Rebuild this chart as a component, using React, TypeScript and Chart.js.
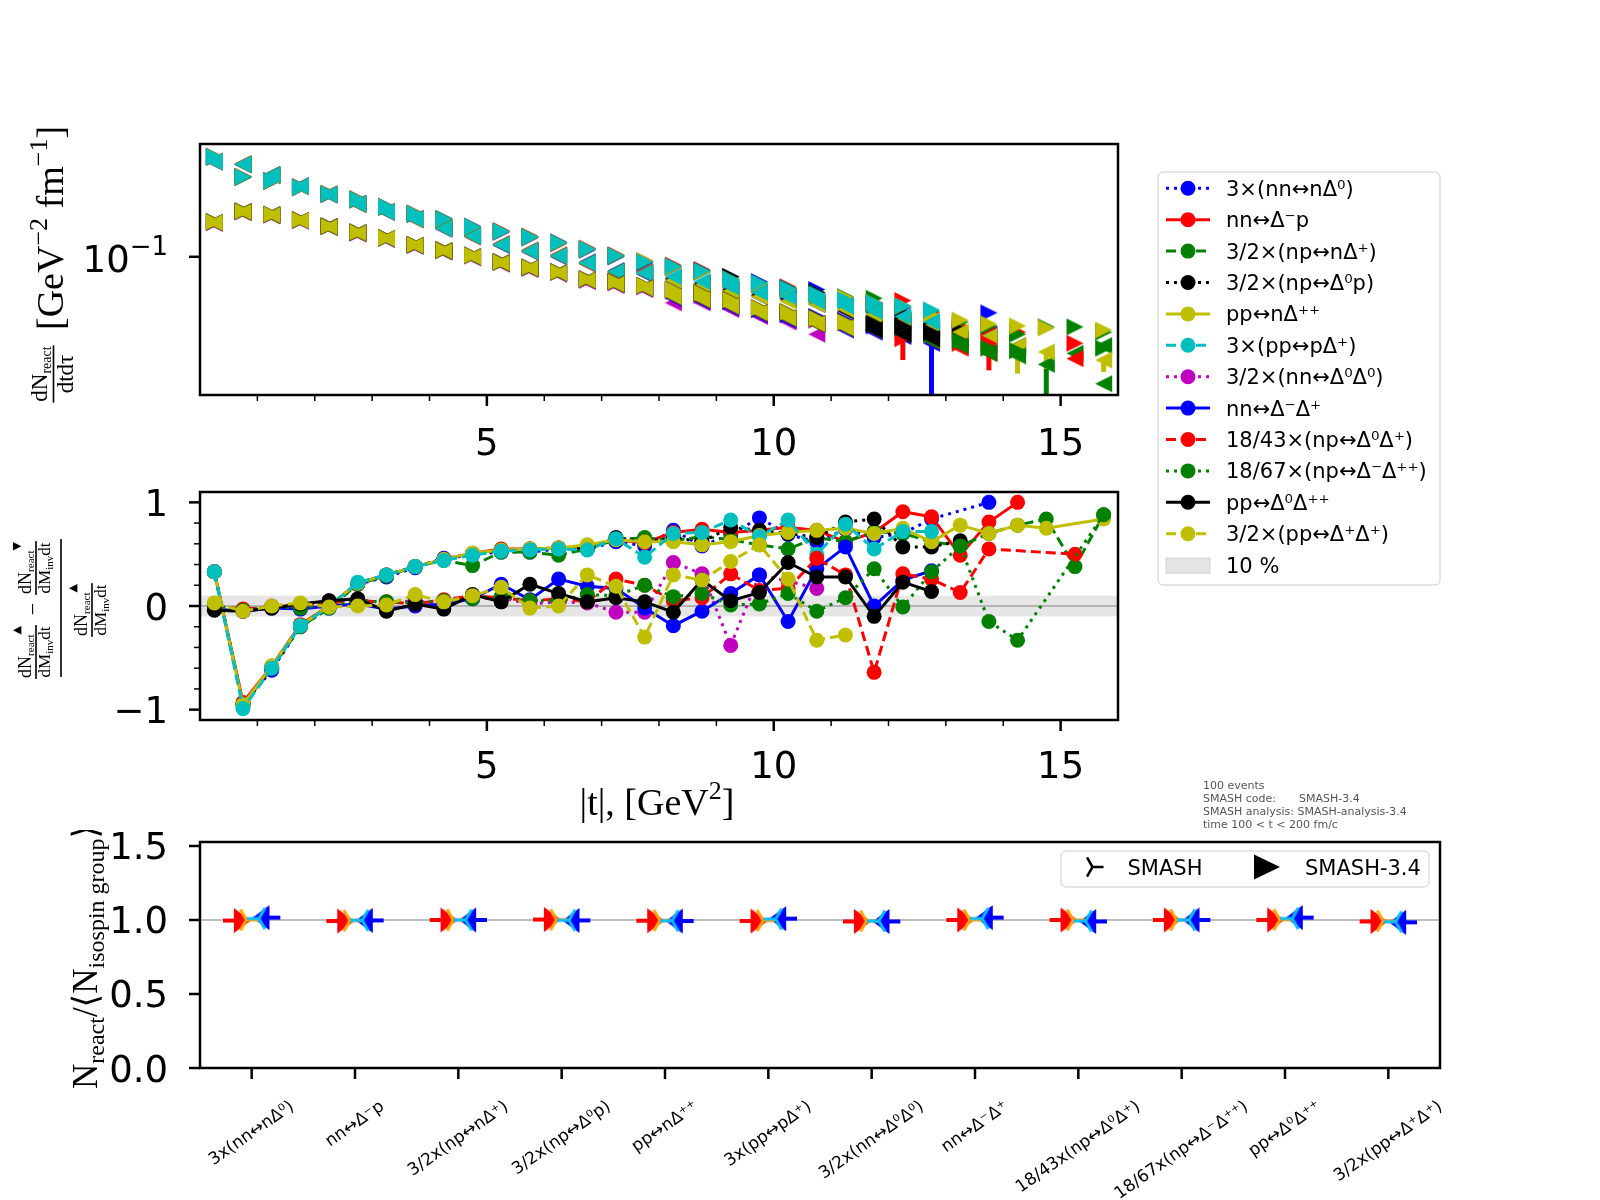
import { useEffect, useRef } from 'react';
import { Chart, registerables } from 'chart.js';

Chart.register(...registerables);

const SANS = '"DejaVu Sans", sans-serif';
const SERIF = '"Liberation Serif", "DejaVu Serif", serif';

// |t| bin centres (GeV^2)
const tCenters = [0.25, 0.75, 1.25, 1.75, 2.25, 2.75, 3.25, 3.75, 4.25, 4.75, 5.25, 5.75, 6.25, 6.75, 7.25, 7.75,
  8.25, 8.75, 9.25, 9.75, 10.25, 10.75, 11.25, 11.75, 12.25, 12.75, 13.25, 13.75, 14.25, 14.75, 15.25, 15.75];

const topXTicks = [5, 10, 15];
const topYTicks = [0.1];
const midYTicks = [-1, 0, 1];
const botYTicks = [0, 0.5, 1.0, 1.5];

const legendLabels = ['3×(nn↔nΔ⁰)', 'nn↔Δ⁻p', '3/2×(np↔nΔ⁺)', '3/2×(np↔Δ⁰p)', 'pp↔nΔ⁺⁺', '3×(pp↔pΔ⁺)',
  '3/2×(nn↔Δ⁰Δ⁰)', 'nn↔Δ⁻Δ⁺', '18/43×(np↔Δ⁰Δ⁺)', '18/67×(np↔Δ⁻Δ⁺⁺)', 'pp↔Δ⁰Δ⁺⁺', '3/2×(pp↔Δ⁺Δ⁺)'];
const reactionLabels = ['3x(nn↔nΔ⁰)', 'nn↔Δ⁻p', '3/2x(np↔nΔ⁺)', '3/2x(np↔Δ⁰p)', 'pp↔nΔ⁺⁺', '3x(pp↔pΔ⁺)',
  '3/2x(nn↔Δ⁰Δ⁰)', 'nn↔Δ⁻Δ⁺', '18/43x(np↔Δ⁰Δ⁺)', '18/67x(np↔Δ⁻Δ⁺⁺)', 'pp↔Δ⁰Δ⁺⁺', '3/2x(pp↔Δ⁺Δ⁺)'];

const seriesStyles = [
  { color: '#0000ff', dash: [3, 5] },
  { color: '#ff0000', dash: [] },
  { color: '#008000', dash: [10, 5] },
  { color: '#000000', dash: [3, 5] },
  { color: '#bfbf00', dash: [] },
  { color: '#00bfbf', dash: [10, 5] },
  { color: '#bf00bf', dash: [3, 5] },
  { color: '#0000ff', dash: [] },
  { color: '#ff0000', dash: [10, 5] },
  { color: '#008000', dash: [3, 5] },
  { color: '#000000', dash: [] },
  { color: '#bfbf00', dash: [10, 5] },
];

// dN/dt dtau, forward (right triangles) and backward (left triangles)
const fwd_nnNd0 = [0.272, 0.222, 0.215, 0.200, 0.187, 0.177, 0.166, 0.153, 0.147, 0.136, 0.128, 0.121, 0.116, 0.107, 0.100, 0.094, 0.090, 0.086, 0.082, 0.078, 0.072, 0.072, 0.066, 0.063, 0.060, 0.056, null, 0.057, null, null, null, null];
const bwd_nnNd0 = [0.259, 0.252, 0.228, 0.204, 0.186, 0.171, 0.156, 0.147, 0.132, 0.124, 0.112, 0.105, 0.100, 0.095, 0.087, 0.084, 0.079, 0.075, 0.071, 0.067, 0.065, 0.062, 0.059, 0.056, 0.053, 0.047, null, 0.046, null, null, null, null];
const fwd_nnDmP = [0.274, 0.224, 0.213, 0.202, 0.189, 0.179, 0.164, 0.155, 0.145, 0.134, 0.130, 0.123, 0.114, 0.109, 0.102, 0.096, 0.092, 0.088, 0.080, 0.076, 0.074, 0.069, 0.066, 0.063, 0.0645, 0.057, 0.050, 0.049, 0.047, null, null, null];
const bwd_nnDmP = [0.261, 0.254, 0.226, 0.202, 0.188, 0.169, 0.158, 0.145, 0.134, 0.122, 0.114, 0.107, 0.102, 0.093, 0.085, 0.086, 0.081, 0.077, 0.073, 0.069, 0.067, 0.064, 0.061, 0.058, 0.053, 0.049, 0.044, 0.041, 0.040, null, null, null];
const fwd_npNdp = [0.272, 0.222, 0.214, 0.201, 0.188, 0.177, 0.165, 0.154, 0.146, 0.135, 0.129, 0.122, 0.115, 0.108, 0.101, 0.095, 0.091, 0.086, 0.081, 0.077, 0.073, 0.070, 0.067, 0.066, 0.061, 0.058, 0.052, 0.050, 0.046, 0.0495, 0.0495, 0.047];
const bwd_npNdp = [0.260, 0.253, 0.227, 0.203, 0.187, 0.170, 0.157, 0.146, 0.133, 0.123, 0.113, 0.106, 0.101, 0.094, 0.086, 0.085, 0.080, 0.076, 0.072, 0.068, 0.066, 0.063, 0.060, 0.057, 0.052, 0.049, 0.043, 0.044, 0.041, 0.034, 0.038, 0.041];
const fwd_npD0p = [0.273, 0.223, 0.214, 0.201, 0.188, 0.178, 0.165, 0.154, 0.146, 0.135, 0.129, 0.122, 0.115, 0.108, 0.101, 0.095, 0.090, 0.087, 0.082, 0.076, 0.073, 0.070, 0.066, 0.062, 0.057, 0.053, 0.048, null, null, null, null, null];
const bwd_npD0p = [0.260, 0.253, 0.227, 0.203, 0.187, 0.170, 0.157, 0.146, 0.133, 0.123, 0.113, 0.106, 0.101, 0.094, 0.086, 0.085, 0.080, 0.076, 0.072, 0.068, 0.066, 0.063, 0.058, 0.055, 0.051, 0.047, 0.044, null, null, null, null, null];
const fwd_ppNdpp = [0.273, 0.223, 0.214, 0.201, 0.188, 0.178, 0.165, 0.154, 0.146, 0.135, 0.129, 0.122, 0.115, 0.108, 0.101, 0.096, 0.090, 0.086, 0.080, 0.076, 0.072, 0.068, 0.0665, 0.063, 0.061, 0.056, 0.053, 0.051, 0.050, 0.049, null, 0.048];
const bwd_ppNdpp = [0.260, 0.253, 0.227, 0.203, 0.187, 0.170, 0.157, 0.146, 0.133, 0.123, 0.113, 0.106, 0.101, 0.094, 0.086, 0.085, 0.079, 0.075, 0.071, 0.067, 0.064, 0.062, 0.059, 0.056, 0.053, 0.050, 0.047, 0.045, 0.041, 0.0385, null, 0.0355];
const fwd_ppPdp = [0.273, 0.223, 0.214, 0.201, 0.188, 0.178, 0.165, 0.154, 0.146, 0.135, 0.129, 0.122, 0.115, 0.108, 0.101, 0.095, 0.091, 0.087, 0.080, 0.077, 0.073, 0.069, 0.065, 0.063, 0.061, 0.0587, null, null, null, null, null, null];
const bwd_ppPdp = [0.260, 0.253, 0.227, 0.203, 0.187, 0.170, 0.157, 0.146, 0.133, 0.123, 0.113, 0.106, 0.101, 0.094, 0.086, 0.085, 0.082, 0.078, 0.074, 0.070, 0.067, 0.064, 0.061, 0.058, 0.055, 0.052, null, null, null, null, null, null];
const fwd_nnD0D0 = [0.141, 0.157, 0.152, 0.144, 0.136, 0.127, 0.121, 0.112, 0.107, 0.101, 0.095, 0.089, 0.086, 0.079, 0.077, 0.074, 0.071, 0.068, 0.064, 0.059, 0.057, 0.053, null, null, null, null, null, null, null, null, null, null];
const bwd_nnD0D0 = [0.140, 0.156, 0.151, 0.143, 0.135, 0.126, 0.119, 0.111, 0.105, 0.099, 0.093, 0.088, 0.084, 0.078, 0.075, 0.072, 0.063, 0.063, 0.059, 0.055, 0.052, 0.046, null, null, null, null, null, null, null, null, null, null];
const fwd_nnDmDp = [0.142, 0.158, 0.153, 0.145, 0.136, 0.128, 0.121, 0.113, 0.107, 0.1015, 0.095, 0.090, 0.086, 0.080, 0.078, 0.075, 0.072, 0.069, 0.064, 0.059, 0.056, 0.055, 0.053, 0.050, 0.049, 0.046, null, null, null, null, null, null];
const bwd_nnDmDp = [0.141, 0.157, 0.152, 0.144, 0.135, 0.127, 0.120, 0.112, 0.106, 0.100, 0.094, 0.089, 0.085, 0.079, 0.076, 0.073, 0.066, 0.064, 0.060, 0.056, 0.053, 0.051, 0.048, 0.047, 0.045, 0.042, null, null, null, null, null, null];
const fwd_npD0Dp = [0.142, 0.158, 0.153, 0.145, 0.136, 0.128, 0.121, 0.113, 0.107, 0.1015, 0.095, 0.090, 0.086, 0.080, 0.078, 0.075, 0.072, 0.0696, 0.065, 0.060, 0.0575, 0.054, 0.052, 0.051, 0.044, 0.046, 0.042, 0.042, null, null, 0.042, null];
const bwd_npD0Dp = [0.141, 0.157, 0.152, 0.144, 0.135, 0.127, 0.120, 0.112, 0.106, 0.100, 0.094, 0.089, 0.085, 0.079, 0.076, 0.073, 0.067, 0.065, 0.061, 0.057, 0.054, 0.051, 0.049, 0.048, 0.046, 0.043, 0.040, 0.038, null, null, 0.036, null];
const fwd_npDmDpp = [0.142, 0.158, 0.153, 0.145, 0.136, 0.128, 0.121, 0.113, 0.107, 0.1015, 0.095, 0.090, 0.086, 0.080, 0.078, 0.075, 0.072, 0.0696, 0.065, 0.060, 0.0575, 0.054, 0.052, 0.051, 0.049, 0.046, 0.043, 0.040, 0.039, null, null, 0.040];
const bwd_npDmDpp = [0.141, 0.157, 0.152, 0.144, 0.135, 0.127, 0.120, 0.112, 0.106, 0.100, 0.094, 0.089, 0.085, 0.079, 0.076, 0.073, 0.067, 0.065, 0.061, 0.057, 0.054, 0.051, 0.049, 0.048, 0.046, 0.043, 0.041, 0.038, 0.037, null, null, 0.028];
const fwd_ppD0Dpp = [0.142, 0.158, 0.153, 0.145, 0.136, 0.128, 0.121, 0.113, 0.107, 0.1015, 0.095, 0.090, 0.086, 0.080, 0.078, 0.075, 0.072, 0.0696, 0.065, 0.060, 0.0575, 0.054, 0.052, 0.051, 0.050, 0.047, null, null, null, null, null, null];
const bwd_ppD0Dpp = [0.141, 0.157, 0.152, 0.144, 0.135, 0.127, 0.120, 0.112, 0.106, 0.100, 0.094, 0.089, 0.085, 0.079, 0.076, 0.073, 0.067, 0.065, 0.061, 0.057, 0.054, 0.051, 0.049, 0.048, 0.046, 0.044, null, null, null, null, null, null];
const fwd_ppDpDp = [0.142, 0.158, 0.153, 0.145, 0.136, 0.128, 0.121, 0.113, 0.107, 0.1015, 0.095, 0.090, 0.086, 0.080, 0.078, 0.075, 0.072, 0.0696, 0.065, 0.060, 0.0575, 0.054, 0.052, null, null, null, null, null, null, null, null, null];
const bwd_ppDpDp = [0.141, 0.157, 0.152, 0.144, 0.135, 0.127, 0.120, 0.112, 0.106, 0.100, 0.094, 0.089, 0.085, 0.079, 0.076, 0.073, 0.067, 0.065, 0.061, 0.057, 0.054, 0.051, 0.049, null, null, null, null, null, null, null, null, null];

// downward error bars that stick out of the marker cloud
const errBwd_npNdp = [0, 0, 0, 0, 0, 0, 0, 0, 0, 0, 0, 0, 0, 0, 0, 0, 0, 0, 0, 0, 0, 0, 0, 0, 0, 0, 0, 0, 0, 0.034, 0, 0];
const errBwd_ppNdpp = [0, 0, 0, 0, 0, 0, 0, 0, 0, 0, 0, 0, 0, 0, 0, 0, 0, 0, 0, 0, 0, 0, 0, 0, 0, 0, 0, 0, 0.010, 0.006, 0, 0.004];
const errBwd_nnDmDp = [0, 0, 0, 0, 0, 0, 0, 0, 0, 0, 0, 0, 0, 0, 0, 0, 0, 0, 0, 0, 0, 0, 0, 0, 0, 0.042, 0, 0, 0, 0, 0, 0];
const errFwd_npD0Dp = [0, 0, 0, 0, 0, 0, 0, 0, 0, 0, 0, 0, 0, 0, 0, 0, 0, 0, 0, 0, 0, 0, 0, 0, 0.0085, 0, 0, 0.010, 0, 0, 0, 0];

// forward-backward asymmetry
const asym_nnNd0 = [0.33, -0.95, -0.62, -0.20, -0.02, 0.21, 0.28, 0.37, 0.46, 0.50, 0.52, 0.52, 0.55, 0.55, 0.62, 0.58, 0.73, 0.58, 0.69, 0.85, 0.69, 0.62, 0.74, 0.66, 0.70, 0.84, null, 1.00, null, null, null, null];
const asym_nnDmP = [0.33, -0.93, -0.58, -0.18, 0.00, 0.22, 0.30, 0.38, 0.45, 0.51, 0.55, 0.55, 0.56, 0.57, 0.64, 0.61, 0.71, 0.74, 0.71, 0.73, 0.76, 0.73, 0.62, 0.71, 0.91, 0.86, 0.49, 0.81, 1.00, null, null, null];
const asym_npNdp = [0.33, -0.95, -0.60, -0.20, -0.02, 0.21, 0.29, 0.38, 0.44, 0.39, 0.52, 0.52, 0.49, 0.55, 0.64, 0.66, 0.63, 0.67, 0.64, 0.59, 0.55, 0.66, 0.62, 0.72, 0.70, 0.62, 0.58, 0.70, 0.78, 0.84, 0.38, 0.88];
const asym_npD0p = [0.33, -0.95, -0.60, -0.19, 0.00, 0.22, 0.30, 0.38, 0.45, 0.50, 0.54, 0.55, 0.56, 0.56, 0.66, 0.62, 0.66, 0.62, 0.76, 0.73, 0.70, 0.66, 0.81, 0.84, 0.57, 0.57, 0.63, null, null, null, null, null];
const asym_ppNdpp = [0.33, -0.95, -0.58, -0.19, 0.00, 0.22, 0.30, 0.38, 0.45, 0.51, 0.54, 0.55, 0.56, 0.59, 0.64, 0.62, 0.62, 0.59, 0.62, 0.68, 0.71, 0.73, 0.75, 0.70, 0.75, 0.62, 0.78, 0.70, 0.78, 0.75, null, 0.84];
const asym_ppPdp = [0.33, -0.99, -0.60, -0.19, -0.01, 0.23, 0.30, 0.38, 0.44, 0.49, 0.53, 0.54, 0.55, 0.54, 0.65, 0.47, 0.70, 0.71, 0.83, 0.67, 0.83, 0.50, 0.79, 0.55, 0.72, 0.72, null, null, null, null, null, null];
const asym_nnD0D0 = [0.00, -0.04, 0.00, 0.01, 0.05, 0.06, 0.03, 0.05, 0.02, 0.07, 0.08, 0.02, 0.04, 0.03, -0.06, -0.06, 0.42, 0.31, -0.38, 0.30, 0.24, 0.17, null, null, null, null, null, null, null, null, null, null];
const asym_nnDmDp = [-0.03, -0.05, -0.02, -0.03, 0.00, 0.02, -0.03, 0.00, 0.02, 0.07, 0.21, 0.06, 0.26, 0.19, 0.17, -0.02, -0.19, -0.05, 0.12, 0.30, -0.15, 0.36, 0.57, 0.00, 0.25, 0.34, null, null, null, null, null, null];
const asym_npD0Dp = [0.00, -0.03, -0.01, 0.01, 0.03, 0.05, 0.04, 0.02, 0.06, 0.10, 0.08, 0.05, 0.07, 0.04, 0.26, 0.20, 0.05, 0.08, 0.31, 0.15, 0.17, 0.46, 0.30, -0.64, 0.31, 0.26, 0.13, 0.55, null, null, 0.50, null];
const asym_npDmDpp = [0.00, -0.04, -0.01, -0.02, 0.01, 0.05, 0.04, 0.03, 0.05, 0.07, 0.09, 0.05, 0.05, 0.11, 0.10, 0.20, 0.09, 0.12, 0.01, 0.02, 0.12, -0.05, 0.08, 0.36, -0.01, 0.33, 0.58, -0.15, -0.33, null, null, 0.88];
const asym_ppD0Dpp = [-0.04, -0.05, -0.02, 0.02, 0.05, 0.07, -0.05, 0.02, -0.03, 0.11, 0.04, 0.21, 0.12, 0.04, 0.08, 0.04, -0.06, 0.25, 0.05, 0.13, 0.42, 0.28, 0.28, -0.10, 0.23, 0.14, null, null, null, null, null, null];
const asym_ppDpDp = [0.03, -0.05, 0.00, 0.03, -0.01, 0.00, 0.01, 0.11, 0.04, 0.10, 0.18, -0.02, 0.00, 0.30, 0.19, -0.30, 0.30, 0.25, 0.43, 0.59, 0.26, -0.33, -0.28, null, null, null, null, null, null, null, null, null];

// N_react / <N_isospin group>
const ratioFwd34 = [0.996, 0.993, 1.000, 1.003, 0.995, 0.993, 0.990, 1.000, 1.000, 1.000, 1.000, 0.990];
const ratioBwd34 = [1.016, 0.997, 1.000, 0.997, 0.993, 1.009, 0.990, 1.016, 0.990, 1.000, 1.016, 0.984];
const ratioFwdRef = [1.000, 0.996, 1.000, 1.002, 0.997, 0.996, 0.993, 1.000, 1.000, 1.000, 1.002, 0.993];
const ratioBwdRef = [1.010, 0.998, 1.000, 0.998, 0.995, 1.006, 0.993, 1.010, 0.993, 1.000, 1.010, 0.988];

const dndtFwd = [fwd_nnNd0, fwd_nnDmP, fwd_npNdp, fwd_npD0p, fwd_ppNdpp, fwd_ppPdp, fwd_nnD0D0, fwd_nnDmDp, fwd_npD0Dp, fwd_npDmDpp, fwd_ppD0Dpp, fwd_ppDpDp];
const dndtBwd = [bwd_nnNd0, bwd_nnDmP, bwd_npNdp, bwd_npD0p, bwd_ppNdpp, bwd_ppPdp, bwd_nnD0D0, bwd_nnDmDp, bwd_npD0Dp, bwd_npDmDpp, bwd_ppD0Dpp, bwd_ppDpDp];
const errFwd: (number[] | null)[] = [null, null, null, null, null, null, null, null, errFwd_npD0Dp, null, null, null];
const errBwd: (number[] | null)[] = [null, null, errBwd_npNdp, null, errBwd_ppNdpp, null, null, errBwd_nnDmDp, null, null, null, null];
const asym = [asym_nnNd0, asym_nnDmP, asym_npNdp, asym_npD0p, asym_ppNdpp, asym_ppPdp, asym_nnD0D0, asym_nnDmDp, asym_npD0Dp, asym_npDmDpp, asym_ppD0Dpp, asym_ppDpDp];

type Run = { t: string; s: number; dy?: number; f?: string };

function runsWidth(ctx: CanvasRenderingContext2D, runs: Run[]) {
  let w = 0;
  for (const r of runs) {
    ctx.font = `${r.s}px ${r.f ?? SERIF}`;
    w += ctx.measureText(r.t).width;
  }
  return w;
}

function drawRuns(ctx: CanvasRenderingContext2D, runs: Run[], x: number, y: number) {
  let cx = x;
  for (const r of runs) {
    ctx.font = `${r.s}px ${r.f ?? SERIF}`;
    ctx.fillText(r.t, cx, y + (r.dy ?? 0));
    cx += ctx.measureText(r.t).width;
  }
}

function hRuns(ctx: CanvasRenderingContext2D, runs: Run[], x: number, y: number, align: string, color = '#000') {
  ctx.save();
  ctx.fillStyle = color;
  ctx.textAlign = 'left';
  ctx.textBaseline = 'alphabetic';
  const w = runsWidth(ctx, runs);
  const x0 = align === 'left' ? x : align === 'center' ? x - w / 2 : x - w;
  drawRuns(ctx, runs, x0, y);
  ctx.restore();
}

// text turned 90deg counter-clockwise; bx = baseline x, by = start (or centre) y
function vRuns(ctx: CanvasRenderingContext2D, runs: Run[], bx: number, by: number, align: string) {
  ctx.save();
  ctx.fillStyle = '#000';
  ctx.textAlign = 'left';
  ctx.textBaseline = 'alphabetic';
  ctx.translate(bx, by);
  ctx.rotate(-Math.PI / 2);
  const w = runsWidth(ctx, runs);
  drawRuns(ctx, runs, align === 'center' ? -w / 2 : 0, 0);
  ctx.restore();
}

function vFrac(ctx: CanvasRenderingContext2D, num: Run[], den: Run[], barX: number, cy: number, gn: number, gd: number) {
  const L = Math.max(runsWidth(ctx, num), runsWidth(ctx, den)) + 2;
  vRuns(ctx, num, barX - gn, cy, 'center');
  vRuns(ctx, den, barX + gd, cy, 'center');
  ctx.save();
  ctx.fillStyle = '#000';
  ctx.fillRect(barX - 0.8, cy - L / 2, 1.6, L);
  ctx.restore();
}

function tickDown(ctx: CanvasRenderingContext2D, x: number, y: number, len: number, lw: number) {
  ctx.save();
  ctx.strokeStyle = '#000';
  ctx.lineWidth = lw;
  ctx.beginPath();
  ctx.moveTo(x, y);
  ctx.lineTo(x, y + len);
  ctx.stroke();
  ctx.restore();
}

function tickLeft(ctx: CanvasRenderingContext2D, x: number, y: number, len: number, lw: number) {
  ctx.save();
  ctx.strokeStyle = '#000';
  ctx.lineWidth = lw;
  ctx.beginPath();
  ctx.moveTo(x, y);
  ctx.lineTo(x - len, y);
  ctx.stroke();
  ctx.restore();
}

function frame(ctx: CanvasRenderingContext2D, a: any) {
  ctx.save();
  ctx.strokeStyle = '#000';
  ctx.lineWidth = 2.5;
  ctx.strokeRect(a.left, a.top, a.right - a.left, a.bottom - a.top);
  ctx.restore();
}

function legendFrame(ctx: CanvasRenderingContext2D, x: number, y: number, w: number, h: number) {
  ctx.save();
  ctx.beginPath();
  ctx.roundRect(x, y, w, h, 5);
  ctx.fillStyle = 'rgba(255,255,255,0.8)';
  ctx.fill();
  ctx.strokeStyle = '#cccccc';
  ctx.lineWidth = 1;
  ctx.stroke();
  ctx.restore();
}

function triPath(ctx: CanvasRenderingContext2D, cx: number, cy: number, L: number, dir: number) {
  ctx.beginPath();
  ctx.moveTo(cx, cy);
  ctx.lineTo(cx + dir * L, cy);
  ctx.moveTo(cx, cy);
  ctx.lineTo(cx - dir * L * 0.5, cy - L * 0.866);
  ctx.moveTo(cx, cy);
  ctx.lineTo(cx - dir * L * 0.5, cy + L * 0.866);
}

function makeTri(color: string, dir: number) {
  const c = document.createElement('canvas');
  c.width = 28;
  c.height = 28;
  const g = c.getContext('2d')!;
  g.strokeStyle = color;
  g.lineWidth = 3;
  triPath(g, 14, 14, 12, dir);
  g.stroke();
  return c;
}

// box-centred filled triangle (like matplotlib's '>' / '<' markers)
const markerCache: Record<string, HTMLCanvasElement> = {};
function triangleMarker(color: string, dir: number, hw: number, hh: number) {
  const key = `${color}|${dir}|${hw}|${hh}`;
  if (markerCache[key]) return markerCache[key];
  const c = document.createElement('canvas');
  c.width = Math.ceil(2 * hw + 2);
  c.height = Math.ceil(2 * hh + 2);
  const g = c.getContext('2d')!;
  const cx = c.width / 2;
  const cy = c.height / 2;
  g.fillStyle = color;
  g.beginPath();
  g.moveTo(cx - dir * hw, cy - hh);
  g.lineTo(cx - dir * hw, cy + hh);
  g.lineTo(cx + dir * hw, cy);
  g.closePath();
  g.fill();
  markerCache[key] = c;
  return c;
}

function pts(vals: (number | null)[], xs: number[]) {
  const out: { x: number; y: number }[] = [];
  vals.forEach((v, k) => {
    if (v !== null) out.push({ x: xs[k], y: v });
  });
  return out;
}

const hiddenScale = (extra: any) => ({
  display: true,
  ticks: { display: false },
  grid: { display: false },
  border: { display: false },
  ...extra,
});

const baseOptions = {
  animation: false,
  responsive: false,
  devicePixelRatio: 1,
  events: [],
  plugins: { legend: { display: false }, tooltip: { enabled: false } },
};

function topConfig(): any {
  const datasets: any[] = [];
  seriesStyles.forEach((st, i) => {
    [[dndtFwd[i], 1], [dndtBwd[i], -1]].forEach(([vals, dir]: any) => {
      datasets.push({
        data: pts(vals, tCenters),
        pointStyle: triangleMarker(st.color, dir, 8.5, 8.5),
        pointRadius: 9,
        pointHoverRadius: 9,
        borderWidth: 0,
        clip: 0,
        order: 100 - datasets.length,
      });
    });
  });

  const decor = {
    id: 'topDecor',
    beforeDatasetsDraw(chart: any) {
      const ctx = chart.ctx as CanvasRenderingContext2D;
      const a = chart.chartArea;
      const ys = chart.scales.y;
      const xs = chart.scales.x;
      ctx.save();
      ctx.beginPath();
      ctx.rect(a.left, a.top, a.right - a.left, a.bottom - a.top);
      ctx.clip();
      seriesStyles.forEach((st, i) => {
        [[dndtFwd[i], errFwd[i]], [dndtBwd[i], errBwd[i]]].forEach(([vals, errs]: any) => {
          if (!errs) return;
          errs.forEach((e: number, k: number) => {
            const v = vals[k];
            if (!e || v === null) return;
            const lo = v - e;
            const y1 = ys.getPixelForValue(v);
            const y2 = lo > ys.min ? ys.getPixelForValue(lo) : a.bottom + 2;
            ctx.strokeStyle = st.color;
            ctx.lineWidth = 5;
            ctx.beginPath();
            ctx.moveTo(xs.getPixelForValue(tCenters[k]), y1);
            ctx.lineTo(xs.getPixelForValue(tCenters[k]), y2);
            ctx.stroke();
          });
        });
      });
      ctx.restore();
    },
    afterDraw(chart: any) {
      const ctx = chart.ctx as CanvasRenderingContext2D;
      const a = chart.chartArea;
      const xs = chart.scales.x;
      const ys = chart.scales.y;
      frame(ctx, a);
      for (let v = 1; v <= 15; v++) {
        if (!topXTicks.includes(v)) tickDown(ctx, xs.getPixelForValue(v), a.bottom, 6, 1.5);
      }
      for (const v of topXTicks) {
        const px = xs.getPixelForValue(v);
        tickDown(ctx, px, a.bottom, 11, 2.5);
        hRuns(ctx, [{ t: String(v), s: 37, f: SANS }], px, a.bottom + 60, 'center');
      }
      for (const v of topYTicks) {
        const py = ys.getPixelForValue(v);
        tickLeft(ctx, a.left, py, 11, 2.5);
        hRuns(ctx, [{ t: '10', s: 37, f: SANS }, { t: '−1', s: 26, dy: -17, f: SANS }], 168, py + 15, 'right');
      }
      // y title
      vFrac(ctx, [{ t: 'dN', s: 23 }, { t: 'react', s: 14, dy: 4 }], [{ t: 'dtdτ', s: 23 }], 53.5, 374, 7, 19);
      vRuns(ctx, [{ t: '[GeV', s: 38 }, { t: '−2', s: 26, dy: -16 }, { t: ' fm', s: 38 }, { t: '−1', s: 26, dy: -16 }, { t: ']', s: 38 }], 63, 330, 'start');
      // legend
      legendFrame(ctx, 1158, 172, 282, 413);
      ctx.save();
      seriesStyles.forEach((st, i) => {
        const cy = 188.3 + 31.4 * i;
        ctx.strokeStyle = st.color;
        ctx.lineWidth = 3;
        ctx.setLineDash(st.dash);
        ctx.beginPath();
        ctx.moveTo(1166, cy);
        ctx.lineTo(1210, cy);
        ctx.stroke();
        ctx.setLineDash([]);
        ctx.fillStyle = st.color;
        ctx.beginPath();
        ctx.arc(1188, cy, 7.5, 0, Math.PI * 2);
        ctx.fill();
        hRuns(ctx, [{ t: legendLabels[i], s: 21, f: SANS }], 1226, cy + 7.5, 'left');
      });
      const cy = 188.3 + 31.4 * 12;
      ctx.fillStyle = '#e5e5e5';
      ctx.fillRect(1166, cy - 7, 44, 15);
      ctx.strokeStyle = '#cfcfcf';
      ctx.lineWidth = 1;
      ctx.strokeRect(1166, cy - 7, 44, 15);
      hRuns(ctx, [{ t: '10 %', s: 21, f: SANS }], 1226, cy + 7.5, 'left');
      ctx.restore();
    },
  };

  return {
    type: 'scatter',
    data: { datasets },
    options: {
      ...baseOptions,
      layout: { padding: { left: 0, top: 144, right: 482, bottom: 0 } },
      scales: {
        x: hiddenScale({ type: 'linear', min: 0, max: 16, afterFit: (s: any) => { s.height = 205; } }),
        y: hiddenScale({ type: 'logarithmic', min: 0.025, max: 0.31, afterFit: (s: any) => { s.width = 200; } }),
      },
    },
    plugins: [decor],
  };
}

function midConfig(): any {
  const datasets = seriesStyles.map((st, i) => ({
    data: pts(asym[i], tCenters),
    borderColor: st.color,
    backgroundColor: st.color,
    borderWidth: 3,
    borderDash: st.dash,
    pointRadius: 7.5,
    pointHoverRadius: 7.5,
    pointBackgroundColor: st.color,
    pointBorderWidth: 0,
    tension: 0,
    fill: false,
    clip: 0,
    order: 100 - i,
  }));
  const OY = 470;

  const decor = {
    id: 'midDecor',
    beforeDatasetsDraw(chart: any) {
      const ctx = chart.ctx as CanvasRenderingContext2D;
      const a = chart.chartArea;
      const ys = chart.scales.y;
      ctx.save();
      const y1 = ys.getPixelForValue(0.1);
      const y2 = ys.getPixelForValue(-0.1);
      ctx.fillStyle = 'rgba(128,128,128,0.2)';
      ctx.fillRect(a.left, y1, a.right - a.left, y2 - y1);
      ctx.strokeStyle = '#808080';
      ctx.lineWidth = 1;
      ctx.beginPath();
      ctx.moveTo(a.left, ys.getPixelForValue(0));
      ctx.lineTo(a.right, ys.getPixelForValue(0));
      ctx.stroke();
      ctx.restore();
    },
    afterDraw(chart: any) {
      const ctx = chart.ctx as CanvasRenderingContext2D;
      const a = chart.chartArea;
      const xs = chart.scales.x;
      const ys = chart.scales.y;
      frame(ctx, a);
      for (let v = 1; v <= 15; v++) {
        if (!topXTicks.includes(v)) tickDown(ctx, xs.getPixelForValue(v), a.bottom, 6, 1.5);
      }
      for (const v of topXTicks) {
        const px = xs.getPixelForValue(v);
        tickDown(ctx, px, a.bottom, 11, 2.5);
        hRuns(ctx, [{ t: String(v), s: 37, f: SANS }], px, a.bottom + 58, 'center');
      }
      for (let k = -5; k <= 5; k++) {
        const v = k / 5;
        if (k % 5 !== 0) tickLeft(ctx, a.left, ys.getPixelForValue(v), 6, 1.5);
      }
      for (const v of midYTicks) {
        const py = ys.getPixelForValue(v);
        tickLeft(ctx, a.left, py, 11, 2.5);
        hRuns(ctx, [{ t: v < 0 ? '−' + Math.abs(v) : String(v), s: 37, f: SANS }], 168, py + 13.5, 'right');
      }
      // y title: (dN^up - dN^down) / dN^up
      const numUp: Run[] = [{ t: 'dN', s: 18 }, { t: 'react', s: 11, dy: 3 }, { t: '▲', s: 11, dy: -11, f: SANS }];
      const numDown: Run[] = [{ t: 'dN', s: 18 }, { t: 'react', s: 11, dy: 3 }, { t: '▼', s: 11, dy: -11, f: SANS }];
      const den: Run[] = [{ t: 'dM', s: 17 }, { t: 'inv', s: 11, dy: 3 }, { t: 'dt', s: 17 }];
      vFrac(ctx, numUp, den, 36, 652 - OY, 5, 14);
      vRuns(ctx, [{ t: '−', s: 22 }], 40, 609 - OY, 'center');
      vFrac(ctx, numDown, den, 36, 568 - OY, 5, 14);
      ctx.save();
      ctx.fillStyle = '#000';
      ctx.fillRect(60.2, 539 - OY, 1.6, 138);
      ctx.restore();
      vFrac(ctx, numUp, den, 92, 610 - OY, 5, 14);
      // x title
      hRuns(ctx, [{ t: '|t|, [GeV', s: 38 }, { t: '2', s: 26, dy: -16 }, { t: ']', s: 38 }], 657, 815 - OY, 'center');
      // run info
      const gray = '#555555';
      hRuns(ctx, [{ t: '100 events', s: 11, f: SANS }], 1203, 789 - OY, 'left', gray);
      hRuns(ctx, [{ t: 'SMASH code:', s: 11, f: SANS }], 1203, 802 - OY, 'left', gray);
      hRuns(ctx, [{ t: 'SMASH-3.4', s: 11, f: SANS }], 1299, 802 - OY, 'left', gray);
      hRuns(ctx, [{ t: 'SMASH analysis: SMASH-analysis-3.4', s: 11, f: SANS }], 1203, 815 - OY, 'left', gray);
      hRuns(ctx, [{ t: 'time 100 < t < 200 fm/c', s: 11, f: SANS }], 1203, 828 - OY, 'left', gray);
    },
  };

  return {
    type: 'line',
    data: { datasets },
    options: {
      ...baseOptions,
      layout: { padding: { left: 0, top: 22, right: 482, bottom: 0 } },
      scales: {
        x: hiddenScale({ type: 'linear', min: 0, max: 16, afterFit: (s: any) => { s.height = 122; } }),
        y: hiddenScale({ type: 'linear', min: -1.1, max: 1.1, afterFit: (s: any) => { s.width = 200; } }),
      },
    },
    plugins: [decor],
  };
}

function botConfig(): any {
  const idx = reactionLabels.map((_, i) => i);
  const at = (vals: number[], off: number) => vals.map((v, i) => ({ x: idx[i] + off, y: v }));
  const triOrange = makeTri('#ffa500', 1);
  const triCyan = makeTri('#00bfff', -1);
  const datasets: any[] = [
    { data: at(ratioFwd34, -0.2), pointStyle: 'line', pointRadius: 8, pointBorderWidth: 4, pointBorderColor: '#ff0000', order: 6 },
    { data: at(ratioBwd34, 0.2), pointStyle: 'line', pointRadius: 8, pointBorderWidth: 4, pointBorderColor: '#0000ff', order: 5 },
    { data: at(ratioFwd34, -0.09), pointStyle: triangleMarker('#ff0000', 1, 8.5, 12.5), pointRadius: 12, order: 4 },
    { data: at(ratioBwd34, 0.09), pointStyle: triangleMarker('#0000ff', -1, 8.5, 12.5), pointRadius: 12, order: 3 },
    { data: at(ratioFwdRef, -0.05), pointStyle: triOrange, pointRadius: 12, order: 2 },
    { data: at(ratioBwdRef, 0.07), pointStyle: triCyan, pointRadius: 12, order: 1 },
  ].map((d) => ({ ...d, borderWidth: 0, pointHoverRadius: d.pointRadius, clip: 0 }));
  const OY = 830;

  const decor = {
    id: 'botDecor',
    beforeDatasetsDraw(chart: any) {
      const ctx = chart.ctx as CanvasRenderingContext2D;
      const a = chart.chartArea;
      const ys = chart.scales.y;
      ctx.save();
      ctx.strokeStyle = '#808080';
      ctx.lineWidth = 1.2;
      ctx.beginPath();
      ctx.moveTo(a.left, ys.getPixelForValue(1));
      ctx.lineTo(a.right, ys.getPixelForValue(1));
      ctx.stroke();
      ctx.restore();
    },
    afterDraw(chart: any) {
      const ctx = chart.ctx as CanvasRenderingContext2D;
      const a = chart.chartArea;
      const xs = chart.scales.x;
      const ys = chart.scales.y;
      frame(ctx, a);
      for (const v of botYTicks) {
        const py = ys.getPixelForValue(v);
        tickLeft(ctx, a.left, py, 11, 2.5);
        hRuns(ctx, [{ t: v.toFixed(1), s: 37, f: SANS }], 168, py + 13.5, 'right');
      }
      const th = (35 * Math.PI) / 180;
      reactionLabels.forEach((lab, i) => {
        const px = xs.getPixelForValue(i);
        tickDown(ctx, px, a.bottom, 11, 2.5);
        ctx.save();
        ctx.font = `17px ${SANS}`;
        ctx.fillStyle = '#000';
        ctx.textAlign = 'center';
        ctx.textBaseline = 'middle';
        const w = ctx.measureText(lab).width;
        const half = (w * Math.sin(th) + 17 * Math.cos(th)) / 2;
        ctx.translate(px, a.bottom + 30 + half);
        ctx.rotate(-th);
        ctx.fillText(lab, 0, 0);
        ctx.restore();
      });
      // y title
      vRuns(ctx, [{ t: 'N', s: 35 }, { t: 'react', s: 24, dy: 7 }, { t: '/⟨N', s: 35 }, { t: 'isospin group', s: 24, dy: 7 }, { t: '⟩', s: 35 }], 97, 1089 - OY, 'start');
      // legend
      legendFrame(ctx, 1061, 851 - OY, 368, 36);
      ctx.save();
      const cy = 867 - OY;
      ctx.strokeStyle = '#000';
      ctx.lineWidth = 2.5;
      triPath(ctx, 1092.5, cy, 11, 1);
      ctx.stroke();
      hRuns(ctx, [{ t: 'SMASH', s: 21, f: SANS }], 1127.5, cy + 7.5, 'left');
      ctx.fillStyle = '#000';
      ctx.beginPath();
      ctx.moveTo(1254, cy - 12.5);
      ctx.lineTo(1254, cy + 12.5);
      ctx.lineTo(1280, cy);
      ctx.closePath();
      ctx.fill();
      hRuns(ctx, [{ t: 'SMASH-3.4', s: 21, f: SANS }], 1305, cy + 7.5, 'left');
      ctx.restore();
    },
  };

  return {
    type: 'scatter',
    data: { datasets },
    options: {
      ...baseOptions,
      layout: { padding: { left: 0, top: 10, right: 160, bottom: 0 } },
      scales: {
        x: hiddenScale({ type: 'linear', min: -0.5, max: 11.5, afterFit: (s: any) => { s.height = 132; } }),
        y: hiddenScale({ type: 'linear', min: 0, max: 1.527, afterFit: (s: any) => { s.width = 200; } }),
      },
    },
    plugins: [decor],
  };
}

export default function App() {
  const topRef = useRef<HTMLCanvasElement>(null);
  const midRef = useRef<HTMLCanvasElement>(null);
  const botRef = useRef<HTMLCanvasElement>(null);

  useEffect(() => {
    document.body.style.margin = '0';
    const charts: Chart[] = [];
    if (topRef.current) charts.push(new Chart(topRef.current, topConfig()));
    if (midRef.current) charts.push(new Chart(midRef.current, midConfig()));
    if (botRef.current) charts.push(new Chart(botRef.current, botConfig()));
    return () => {
      charts.forEach((c) => c.destroy());
    };
  }, []);

  const abs = (top: number, h: number): any => ({ position: 'absolute', left: 0, top, width: 1600, height: h });

  return (
    <div style={{ position: 'relative', width: 1600, height: 1200, background: '#fff', overflow: 'hidden' }}>
      <canvas ref={topRef} width={1600} height={600} style={abs(0, 600)} />
      <canvas ref={midRef} width={1600} height={372} style={abs(470, 372)} />
      <canvas ref={botRef} width={1600} height={370} style={abs(830, 370)} />
    </div>
  );
}
